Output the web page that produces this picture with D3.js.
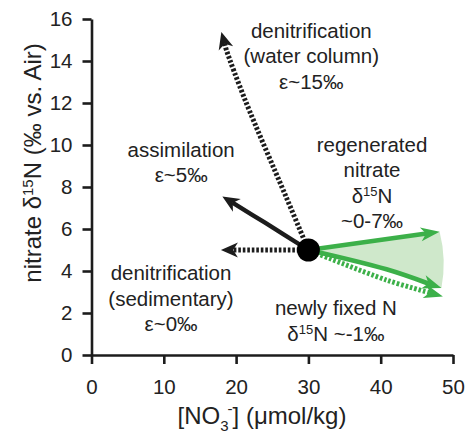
<!DOCTYPE html>
<html>
<head>
<meta charset="utf-8">
<script src="https://cdn.jsdelivr.net/npm/d3@7"></script>
<style>
  html, body { margin: 0; padding: 0; background: #fff; }
  svg text { font-family: "Liberation Sans", Arial, Helvetica, sans-serif; fill: #222; }
</style>
</head>
<body>
<svg id="chart" width="467" height="441"></svg>
<script>
// Axis ticks
const xTicks = [0, 10, 20, 30, 40, 50];
const yTicks = [0, 2, 4, 6, 8, 10, 12, 14, 16];

// Starting water: [NO3-] (µmol/kg), δ15N (‰)
const origin = [30, 5];

// Process trajectories (x = [NO3-], y = δ15N); last point is the arrow tip
const waterColumnDenit = [[30, 5], [26.9, 7.54], [21.25, 12.14], [18.66, 14.52], [17.96, 15.38]];
const assimilation = [[30, 5], [24, 6.3], [18.1, 7.55]];
const sedimentaryDenit = [[30, 5], [17.9, 5]];
const regenerated = [[30, 5], [48.15, 5.87]];
const newlyFixed = [[30, 5], [40.8, 4.08], [48.4, 3.19]];
const newlyFixedDotted = [[30, 5], [40.8, 3.57], [48.6, 2.78]];

// Annotation labels: centre x and first-line baseline y, in data units
const labels = [
  { x: 30.4, y: 15.1, lines: ["denitrification", "(water column)", "ε~15‰"] },
  { x: 12.4, y: 9.43, lines: ["assimilation", "ε~5‰"] },
  { x: 38.8, y: 9.67, lines: ["regenerated", "nitrate", "δ|15|N", "~0-7‰"] },
  { x: 11.0, y: 3.57, lines: ["denitrification", "(sedimentary)", "ε~0‰"] },
  { x: 33.8, y: 1.9, lines: ["newly fixed N", "δ|15|N ~-1‰"] }
];

const svg = d3.select("#chart");
const x = d3.scaleLinear().domain([0, 50]).range([91.5, 453]);
const y = d3.scaleLinear().domain([0, 16]).range([355, 19]);

const ink = "#1c1c1c";
const green = "#3cb049";
const shade = "#cfe8cb";

// Shaded fan between the regenerated and newly-fixed vectors
(function () {
  const cx = x(origin[0]), cy = y(origin[1]);
  const a = regenerated[regenerated.length - 1];
  const b = newlyFixed[newlyFixed.length - 1];
  const ax = x(a[0]), ay = y(a[1]), bx = x(b[0]), by = y(b[1]);
  const r = (Math.hypot(ax - cx, ay - cy) + Math.hypot(bx - cx, by - cy)) / 2 - 6;
  const lower = d3.line().x(d => x(d[0])).y(d => y(d[1])).curve(d3.curveCatmullRom)(newlyFixed.slice().reverse());
  const p = `M${cx},${cy}L${ax},${ay}A${r},${r} 0 0 1 ${bx},${by}` + lower.replace(/^M[^A-Za-z]*/, "L" + bx + "," + by) + "Z";
  svg.append("path").attr("d", p).attr("fill", shade).attr("stroke", "none");
})();

// Axes
const xAxis = svg.append("g").attr("transform", `translate(0,${y(0)})`)
  .call(d3.axisBottom(x).tickValues(xTicks).tickSize(9).tickSizeOuter(0).tickPadding(15));
const yAxis = svg.append("g").attr("transform", `translate(${x(0)},0)`)
  .call(d3.axisLeft(y).tickValues(yTicks).tickSize(9).tickSizeOuter(0).tickPadding(10));
[xAxis, yAxis].forEach(g => {
  g.select(".domain").attr("stroke", ink).attr("stroke-width", 2.6);
  g.selectAll(".tick line").attr("stroke", ink).attr("stroke-width", 2.6);
  g.selectAll(".tick text").attr("font-size", 20.5).attr("fill", "#2a2a2a")
    .attr("font-family", '"Liberation Sans", Arial, sans-serif');
});

// Axis titles
const xt = svg.append("text").attr("x", 262).attr("y", 424).attr("text-anchor", "middle").attr("font-size", 24);
xt.append("tspan").text("[NO");
xt.append("tspan").text("3").attr("font-size", 15).attr("dy", 7);
xt.append("tspan").text("-").attr("font-size", 15).attr("dy", -17).attr("dx", -1);
xt.append("tspan").text("] (μmol/kg)").attr("dy", 10);

const yt = svg.append("text").attr("transform", "translate(41,163) rotate(-90)")
  .attr("text-anchor", "middle").attr("font-size", 24);
yt.append("tspan").text("nitrate δ");
yt.append("tspan").text("15").attr("font-size", 15).attr("dy", -8);
yt.append("tspan").text("N (‰ vs. Air)").attr("dy", 8);

// Arrow drawing helper: path from data points, arrowhead at the last point
const lineGen = d3.line().x(d => d[0]).y(d => d[1]).curve(d3.curveCatmullRom);
function arrow(pts, color, width, dashed, headLen, headW) {
  const px = pts.map(d => [x(d[0]), y(d[1])]);
  const tip = px[px.length - 1];
  const prev = px[px.length - 2];
  const ang = Math.atan2(tip[1] - prev[1], tip[0] - prev[0]);
  const back = headLen * 0.7;
  const trimmed = px.slice(0, -1).concat([[tip[0] - back * Math.cos(ang), tip[1] - back * Math.sin(ang)]]);
  const path = svg.append("path").attr("d", lineGen(trimmed)).attr("fill", "none")
    .attr("stroke", color).attr("stroke-width", width);
  if (dashed) path.attr("stroke-dasharray", dashed);
  const deg = ang * 180 / Math.PI;
  svg.append("path")
    .attr("d", `M0,0L${-headLen},${-headW / 2}L${-headLen * 0.72},0L${-headLen},${headW / 2}Z`)
    .attr("transform", `translate(${tip[0]},${tip[1]}) rotate(${deg})`)
    .attr("fill", color);
}

arrow(waterColumnDenit, ink, 5, "2.6,1.9", 17, 15);
arrow(assimilation, ink, 4.4, null, 17, 15);
arrow(sedimentaryDenit, ink, 5, "2.6,1.9", 17, 15);
arrow(newlyFixedDotted, green, 5, "2.6,1.9", 19, 14);
arrow(regenerated, green, 4.6, null, 19, 14);
arrow(newlyFixed, green, 4.6, null, 19, 14);

// Starting point
svg.append("circle").attr("cx", x(origin[0])).attr("cy", y(origin[1])).attr("r", 11.5).attr("fill", "#000");

// Annotation text; "|15|" marks a superscript
labels.forEach(l => {
  const t = svg.append("text").attr("text-anchor", "middle").attr("font-size", 20.5);
  const lh = 25.5;
  const top = y(l.y);
  l.lines.forEach((s, i) => {
    const line = t.append("tspan").attr("x", x(l.x)).attr("y", top + i * lh);
    const parts = s.split("|");
    if (parts.length === 3) {
      line.text(parts[0]);
      line.append("tspan").text(parts[1]).attr("font-size", 13).attr("dy", -7);
      line.append("tspan").text(parts[2]).attr("dy", 7);
    } else {
      line.text(s);
    }
  });
});
</script>
</body>
</html>
